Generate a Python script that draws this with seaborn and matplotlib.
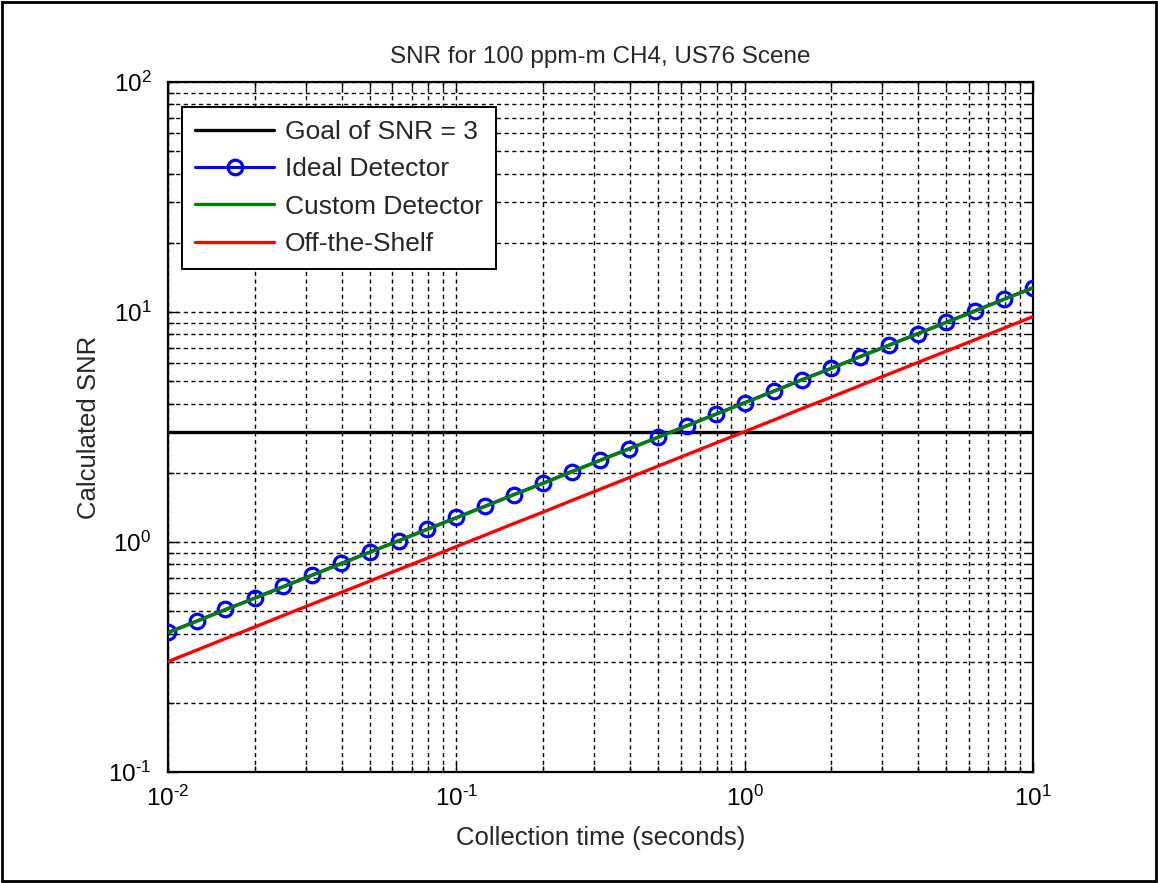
import numpy as np
import pandas as pd
import matplotlib
matplotlib.use("Agg")
import matplotlib.pyplot as plt
import seaborn as sns
from matplotlib.patches import Rectangle
from matplotlib.ticker import LogLocator, NullFormatter, FuncFormatter

# Collection times (s), 0.1-decade steps from 1e-2 to 1e1
collection_time = [0.0100, 0.0126, 0.0158, 0.0200, 0.0251, 0.0316, 0.0398, 0.0501,
                   0.0631, 0.0794, 0.100, 0.126, 0.158, 0.200, 0.251, 0.316, 0.398,
                   0.501, 0.631, 0.794, 1.00, 1.26, 1.58, 2.00, 2.51, 3.16, 3.98,
                   5.01, 6.31, 7.94, 10.0]

ideal_snr = [0.405, 0.454, 0.509, 0.571, 0.641, 0.719, 0.807, 0.905, 1.015, 1.139,
             1.278, 1.434, 1.608, 1.805, 2.025, 2.272, 2.549, 2.860, 3.209, 3.600,
             4.040, 4.532, 5.085, 5.706, 6.402, 7.183, 8.059, 9.042, 10.15, 11.38,
             12.77]

custom_snr = [0.403, 0.452, 0.507, 0.569, 0.638, 0.716, 0.803, 0.901, 1.011, 1.134,
              1.273, 1.428, 1.602, 1.797, 2.017, 2.263, 2.539, 2.848, 3.196, 3.586,
              4.023, 4.514, 5.065, 5.683, 6.376, 7.154, 8.027, 9.006, 10.10, 11.34,
              12.72]

offshelf_snr = [0.302, 0.339, 0.380, 0.427, 0.479, 0.537, 0.603, 0.676, 0.759, 0.851,
                0.955, 1.072, 1.202, 1.349, 1.514, 1.698, 1.905, 2.138, 2.399, 2.692,
                3.020, 3.388, 3.802, 4.266, 4.786, 5.370, 6.026, 6.761, 7.586, 8.511,
                9.550]

goal_snr = 3.0

sns.set_style("ticks")
plt.rcParams["font.family"] = ["Liberation Sans", "DejaVu Sans"]
plt.rcParams["mathtext.fontset"] = "custom"
plt.rcParams["mathtext.rm"] = "Liberation Sans"
plt.rcParams["mathtext.it"] = "Liberation Sans"
plt.rcParams["mathtext.bf"] = "Liberation Sans"

fig = plt.figure(figsize=(11.58, 8.83), dpi=100)
ax = fig.add_axes([168 / 1158, 1 - 772 / 883, (1033 - 168) / 1158, (772 - 82) / 883])

df = pd.DataFrame({
    "t": collection_time,
    "ideal": ideal_snr,
    "custom": custom_snr,
    "off": offshelf_snr,
})
df["goal"] = goal_snr

sns.lineplot(data=df, x="t", y="goal", ax=ax, color="black", lw=2.4,
             label="Goal of SNR = 3", zorder=3)
sns.lineplot(data=df, x="t", y="ideal", ax=ax, color="#0000ff", lw=2.2,
             marker="o", markersize=10.5, markerfacecolor="none",
             markeredgecolor="#0000ff", markeredgewidth=2.3,
             label="Ideal Detector", zorder=4)
sns.lineplot(data=df, x="t", y="custom", ax=ax, color="#007f00", lw=2.4,
             label="Custom Detector", zorder=5)
sns.lineplot(data=df, x="t", y="off", ax=ax, color="#ff0000", lw=2.4,
             label="Off-the-Shelf", zorder=5)

ax.set_xscale("log")
ax.set_yscale("log")
ax.set_xlim(1e-2, 1e1)
ax.set_ylim(1e-1, 1e2)

decade_fmt = FuncFormatter(lambda v, p: r"$10^{\text{%d}}$" % int(round(np.log10(v))))
ax.xaxis.set_major_locator(LogLocator(base=10, numticks=10))
ax.yaxis.set_major_locator(LogLocator(base=10, numticks=10))
ax.xaxis.set_major_formatter(decade_fmt)
ax.yaxis.set_major_formatter(decade_fmt)
ax.xaxis.set_minor_locator(LogLocator(base=10, subs=np.arange(2, 10), numticks=20))
ax.yaxis.set_minor_locator(LogLocator(base=10, subs=np.arange(2, 10), numticks=20))
ax.xaxis.set_minor_formatter(NullFormatter())
ax.yaxis.set_minor_formatter(NullFormatter())

ax.grid(True, which="both", color="black", lw=1.0, linestyle=(0, (3, 2.5)))
ax.set_axisbelow(True)

for sp in ax.spines.values():
    sp.set_visible(True)
    sp.set_color("black")
    sp.set_linewidth(1.6)

ax.tick_params(which="both", direction="in", top=True, right=True,
               colors="black", labelsize=17.5, width=1.0)
ax.tick_params(which="major", length=7)
ax.tick_params(axis="x", which="major", pad=10)
ax.tick_params(axis="y", which="major", pad=12)
ax.tick_params(which="minor", length=4)

ax.set_title("SNR for 100 ppm-m CH4, US76 Scene", fontsize=17.5, pad=14)
ax.set_xlabel("Collection time (seconds)", fontsize=18.5, labelpad=11)
ax.set_ylabel("Calculated SNR", fontsize=18.5, labelpad=5)

leg = ax.legend(loc="upper left", bbox_to_anchor=(0.0162, 0.9638), fontsize=19,
                frameon=True, fancybox=False, framealpha=1, edgecolor="black",
                handlelength=3.0, handletextpad=0.4, borderpad=0.5,
                labelspacing=0.5, borderaxespad=0)
leg.get_frame().set_linewidth(1.4)

# Outer frame around the whole figure
fig.patches.append(Rectangle((0.002, 0.002), 0.996, 0.996, transform=fig.transFigure,
                             fill=False, edgecolor="black", lw=2.0))

fig.savefig("out.png", dpi=100, facecolor="white")
